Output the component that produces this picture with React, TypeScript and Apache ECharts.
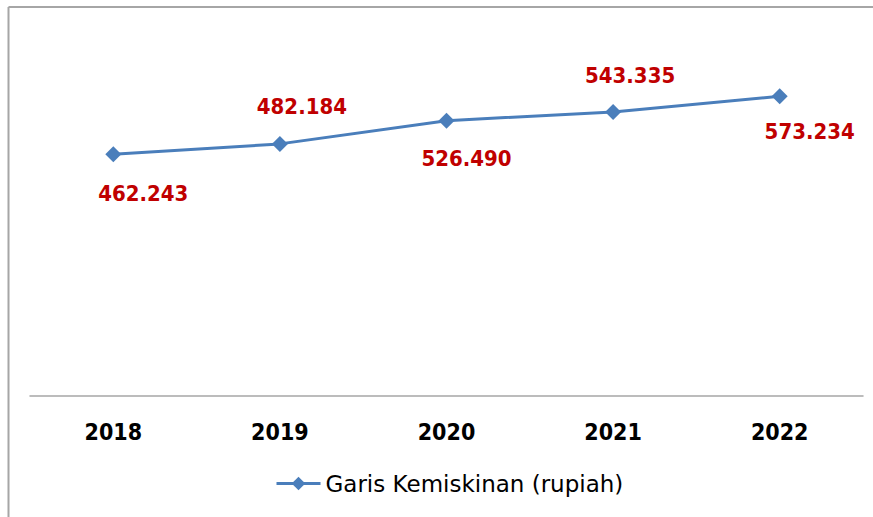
import React, { useEffect, useRef } from "react";
import * as echarts from "echarts";

const years = ["2018", "2019", "2020", "2021", "2022"];
const values = [462.243, 482.184, 526.49, 543.335, 573.234];
const labelTexts = ["462.243", "482.184", "526.490", "543.335", "573.234"];
const seriesName = "Garis Kemiskinan (rupiah)";

// label placement (style only): [dx, dy] relative to point
const labelOffsets: [number, number][] = [
  [30, 39],
  [22, -37],
  [20, 38],
  [17, -36],
  [30, 35],
];

export default function App() {
  const ref = useRef<HTMLDivElement>(null);
  useEffect(() => {
    if (!ref.current) return;
    const chart = echarts.init(ref.current, undefined, { renderer: "svg" });
    chart.setOption({
      animation: false,
      backgroundColor: "#ffffff",
      grid: { left: 30, right: 10, top: 30, bottom: 121, containLabel: false },
      xAxis: {
        type: "category",
        data: years,
        boundaryGap: true,
        axisLine: { show: true, lineStyle: { color: "#A6A6A6", width: 1.5 } },
        axisTick: { show: false },
        axisLabel: {
          color: "#000000",
          fontFamily: "DejaVu Sans Condensed",
          fontWeight: "bold",
          fontSize: 23,
          margin: 24,
        },
      },
      yAxis: {
        type: "value",
        min: 0,
        max: 700,
        show: false,
        splitLine: { show: false },
      },
      legend: {
        data: [seriesName],
        left: 270,
        top: 467,
        itemWidth: 44,
        itemHeight: 17,
        itemGap: 4,
        lineStyle: { width: 3 },
        textStyle: {
          color: "#000000",
          fontFamily: "DejaVu Sans",
          fontSize: 23,
        },
      },
      graphic: [
        {
          type: "line",
          shape: { x1: 8.5, y1: 7, x2: 873, y2: 7 },
          style: { stroke: "#A6A6A6", lineWidth: 2 },
          silent: true,
        },
        {
          type: "line",
          shape: { x1: 8.5, y1: 7, x2: 8.5, y2: 517 },
          style: { stroke: "#A6A6A6", lineWidth: 2 },
          silent: true,
        },
      ],
      series: [
        {
          name: seriesName,
          type: "line",
          data: values.map((v, i) => ({
            value: v,
            label: {
              show: true,
              position: "inside",
              offset: labelOffsets[i],
              formatter: () => labelTexts[i],
            },
          })),
          symbol: "diamond",
          symbolSize: 16,
          lineStyle: { color: "#4A7EBB", width: 3 },
          itemStyle: { color: "#4A7EBB" },
          label: {
            color: "#C00000",
            fontFamily: "DejaVu Sans Condensed",
            fontWeight: "bold",
            fontSize: 22,
          },
        },
      ],
    });
    return () => chart.dispose();
  }, []);
  return (
    <div
      ref={ref}
      style={{ position: "fixed", left: 0, top: 0, width: 873, height: 517 }}
    />
  );
}
